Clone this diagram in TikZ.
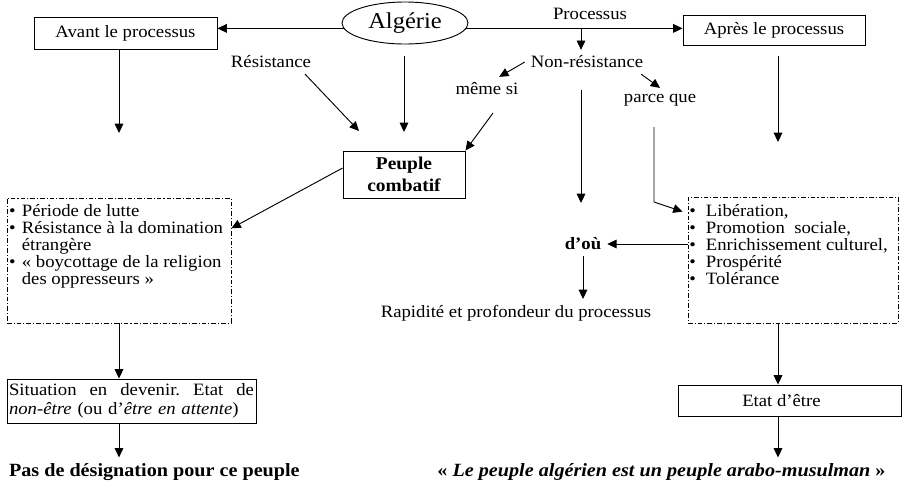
\documentclass[tikz,border=0pt]{standalone}
\usepackage{fontspec}
\setmainfont[FakeStretch=1.08]{Liberation Serif}
\usetikzlibrary{arrows.meta,calc,shapes.geometric}
\AtBeginDocument{\fontsize{13}{15}\selectfont\lineskiplimit=-20pt\relax}

\tikzset{
  arr/.style={-{Triangle[length=7pt,width=6.5pt]}, line width=0.7pt},
  plainbox/.style={draw, line width=0.7pt, inner sep=0pt},
  listbox/.style={draw, line width=0.6pt, inner sep=0pt,
    dash pattern=on 3.5pt off 1.5pt on 0.8pt off 1.5pt},
  items/.style={align=left, inner sep=0pt, anchor=north west,
    font=\fontsize{13}{12.75}\selectfont},
  bottomtxt/.style={font=\bfseries\fontsize{14}{16}\selectfont}
}
\newcommand\itm[1]{\hbox to #1{\textbullet\hss}}
\newcommand\noitm[1]{\hbox to #1{\hss}}

\begin{document}
\begin{tikzpicture}[x=0.75pt, y=-0.75pt]
    \useasboundingbox (0,0) rectangle (903,490);

    % Top row: Algerie between the two phases
    \node[ellipse, draw, line width=0.7pt, inner sep=0pt, minimum width=94.5pt,
      minimum height=31.5pt, font=\fontsize{17}{20}\selectfont] (alg) at (405,23) {Algérie};
    \node[plainbox, minimum width=137.25pt, minimum height=24pt] (avant) at (125.5,33) {Avant le processus};
    \node[plainbox, minimum width=136.5pt, minimum height=22.5pt] (apres) at (774,30) {Après le processus};
    \draw[arr] (alg.185) -- (alg.185 -| avant.east);
    \draw[arr] (alg.-5) -- (alg.-5 -| apres.west);

    % Column positions of the vertical arrows
    \coordinate (lcol) at (119,0);
    \coordinate (rcol) at (778,0);

    % Process branch
    \node (proc) at (590,14) {Processus};
    \coordinate (pfork) at (581,28);
    \node (nonres) at (587,62) {Non-résistance};
    \draw[arr] (pfork) -- (pfork |- nonres.north);
    \node (memesi) at (487,89) {même si};
    \node (parceque) at (660,100) {parce que};
    \draw[arr] (nonres.west) -- (memesi.45);
    \draw[arr] ([xshift=-6pt]nonres.south east) -- (parceque.north);

    % Resistance branch
    \node (resist) at (271,62) {Résistance};
    \coordinate (resend) at (359,131);
    \draw[arr] ([xshift=-9pt]resist.south east) -- (resend);
    \coordinate (algend) at (404,132);
    \draw[arr, shorten <=9pt] (alg.south -| algend) -- (algend);

    % Free arrows below the two phase boxes
    \coordinate (avend) at (119,133);
    \draw[arr] (avant.south -| lcol) -- (avend);
    \coordinate (apend) at (778,142);
    \draw[arr, shorten <=8pt] (apres.south -| rcol) -- (apend);

    % Peuple combatif
    \node[plainbox, minimum width=91.5pt, minimum height=35.25pt, align=center,
      font=\bfseries\fontsize{13.5}{17}\selectfont] (peuple) at (404,174.5) {Peuple\\combatif};
    \coordinate (mstart) at (493,113);
    \draw[arr] (mstart) -- (peuple.north east);

    % Long arrow under Non-resistance
    \coordinate (nrend) at (581,203);
    \draw[arr, shorten <=12pt] (nonres.south -| nrend) -- (nrend);

    % Left list
    \node[listbox, minimum width=168pt, minimum height=93.75pt] (lbox) at (119,260.5) {};
    \node[items] (litems) at ($(lbox.north west)+(2.2,6.2)$) {\itm{9.6pt}Période de lutte\\
      \itm{9.6pt}Résistance à la domination\\
      \noitm{9.6pt}étrangère\\
      \itm{9.6pt}« boycottage de la religion\\
      \noitm{9.6pt}des oppresseurs »};
    \draw[arr] (peuple.174) -- (lbox.16.7);

    % Right list
    \node[listbox, minimum width=157.5pt, minimum height=94.5pt] (rbox) at (793,260) {};
    \node[items] (ritems) at ($(rbox.north west)+(1.5,7.2)$) {\itm{12.4pt}Libération,\\
      \itm{12.4pt}Promotion\ \ sociale,\\
      \itm{12.4pt}Enrichissement culturel,\\
      \itm{12.4pt}Prospérité\\
      \itm{12.4pt}Tolérance};
    \coordinate (pqtop) at (654,127);
    \coordinate (pqbend) at (654,202);
    \draw[arr] (pqtop) -- (pqbend) -- ($(rbox.north west)+(-5,15)$);

    % d'ou and its consequence
    \node[font=\bfseries\fontsize{13}{15}\selectfont] (dou) at (583,244) {d’où};
    \draw[arr] (rbox.west |- dou) -- (dou.east);
    \node (rapid) at (516,313) {Rapidité et profondeur du processus};
    \draw[arr] (dou.south) -- (dou.south |- rapid.north);

    % Bottom row
    \node[plainbox, minimum width=186.75pt, minimum height=33pt, inner sep=1.5pt,
      text width=183.75pt, align=left, font=\fontsize{13}{14.25}\selectfont] (situ) at (131.5,401)
      {Situation\hfill en\hfill devenir.\hfill Etat\hfill de\\ \textit{non-être} (ou d’\textit{être en attente})};
    \node[plainbox, minimum width=167.25pt, minimum height=23.25pt] (etat) at (789.5,400.5) {Etat d’être\hspace*{12pt}};
    \node[bottomtxt, anchor=west] (pasdes) at (3,472) {Pas de désignation pour ce peuple};
    \node[bottomtxt] (arabo) at (661.5,472) {« \textit{Le peuple algérien est un peuple arabo-musulman} »};

    \draw[arr] (lbox.south) -- (lbox.south |- situ.north);
    \draw[arr] (situ.south -| lcol) -- (lcol |- pasdes.north);
    \draw[arr] (rbox.south -| rcol) -- (rcol |- etat.north);
    \draw[arr] (etat.south -| rcol) -- (rcol |- arabo.north);
\end{tikzpicture}
\end{document}
